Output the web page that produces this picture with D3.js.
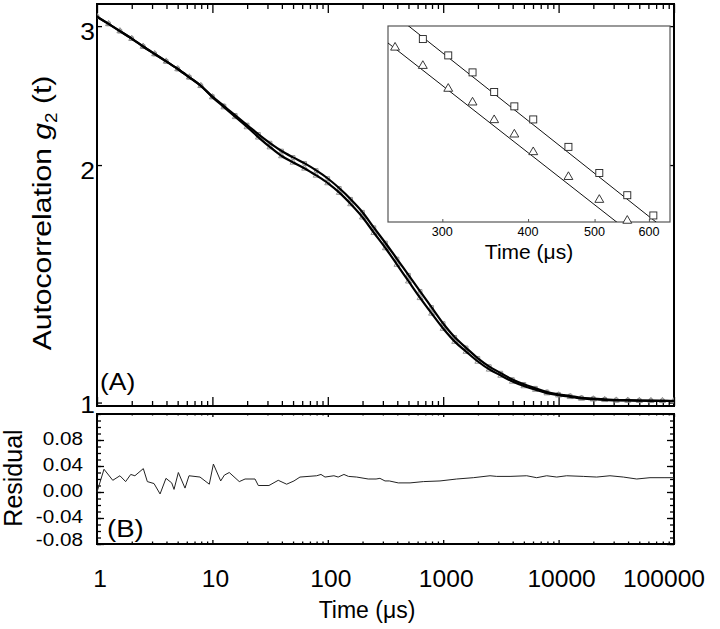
<!DOCTYPE html>
<html><head><meta charset="utf-8">
<script src="https://cdn.jsdelivr.net/npm/d3@7"></script>
<style>body{margin:0;background:#fff} svg{display:block} text{font-family:"Liberation Sans",Arial,Helvetica,sans-serif;fill:#000}</style>
</head><body><svg id="c" width="720" height="629"></svg>
<script>
// ---------- DATA ----------
const times = [1, 1.26, 1.58, 2, 2.51, 3.16, 3.98, 5.01, 6.31, 7.94, 10, 12.6, 15.8, 20, 25.1, 31.6, 39.8, 50.1, 63.1, 79.4,
  100, 126, 158, 200, 251, 316, 398, 501, 631, 794, 1000, 1260, 1580, 2000, 2510, 3160, 3980, 5010, 6310, 7940,
  10000, 12600, 15800, 20000, 25100, 31600, 39800, 50100, 63100, 79400, 100000];
const upperG = [3.0836, 3.0195, 2.9567, 2.8919, 2.8268, 2.7656, 2.7065, 2.6471, 2.5838, 2.5205, 2.4422, 2.3755, 2.3119, 2.2480, 2.1878, 2.1324, 2.0838, 2.0452, 2.0097, 1.9690,
  1.9230, 1.8688, 1.8100, 1.7429, 1.6658, 1.5931, 1.5203, 1.4502, 1.3836, 1.3202, 1.2595, 1.2098, 1.1732, 1.1379, 1.1107, 1.0898, 1.0696, 1.0547, 1.0428, 1.0313,
  1.0244, 1.0193, 1.0140, 1.0116, 1.0095, 1.0075, 1.0069, 1.0060, 1.0054, 1.0051, 1.0046];
const lowerG = [3.0836, 3.0195, 2.9567, 2.8919, 2.8268, 2.7656, 2.7065, 2.6471, 2.5838, 2.5205, 2.4386, 2.3686, 2.3018, 2.2349, 2.1686, 2.1075, 2.0534, 2.0154, 1.9804, 1.9403,
  1.8978, 1.8453, 1.7852, 1.7175, 1.6415, 1.5699, 1.4959, 1.4248, 1.3574, 1.2971, 1.2411, 1.1946, 1.1605, 1.1273, 1.1016, 1.0822, 1.0634, 1.0495, 1.0385, 1.0280,
  1.0217, 1.0169, 1.0119, 1.0098, 1.0080, 1.0063, 1.0060, 1.0054, 1.0051, 1.0051, 1.0046];

const residT = [1, 1.15, 1.37, 1.58, 1.77, 1.96, 2.13, 2.52, 2.73, 3.12, 3.52, 3.96, 4.44, 4.65, 5.07, 5.79, 6.27, 7.81, 9.4, 10.2, 11.8, 12.7, 14.0, 17.1, 19.2, 23.4, 25.0, 30.9, 37.2, 44.0, 50.9, 57.4, 80.1, 87.3, 94.6, 113, 123, 138, 151, 178, 224, 262, 283, 313, 341, 408, 516, 673, 938, 1309, 1824, 2545, 2910, 3795, 5295, 6457, 7887, 9636, 11750, 16370, 21380, 27870, 36380, 47530, 61940, 83560, 100000];
const residV = [0.000, 0.035, 0.018, 0.025, 0.016, 0.027, 0.025, 0.036, 0.016, 0.013, -0.003, 0.021, 0.014, 0.004, 0.030, 0.006, 0.025, 0.023, 0.012, 0.043, 0.017, 0.026, 0.030, 0.016, 0.020, 0.020, 0.010, 0.010, 0.018, 0.012, 0.017, 0.023, 0.025, 0.027, 0.023, 0.025, 0.023, 0.027, 0.024, 0.023, 0.020, 0.020, 0.021, 0.017, 0.017, 0.014, 0.014, 0.016, 0.017, 0.020, 0.022, 0.025, 0.024, 0.024, 0.025, 0.022, 0.025, 0.023, 0.025, 0.024, 0.023, 0.025, 0.023, 0.020, 0.022, 0.022, 0.022];

const insetSqT = [281, 306, 332, 357, 382, 407, 458, 508, 558, 609];
const insetSqG = [1.660, 1.635, 1.609, 1.579, 1.557, 1.537, 1.495, 1.455, 1.421, 1.390];
const insetTrT = [256, 281, 306, 332, 357, 382, 407, 458, 508, 558];
const insetTrG = [1.647, 1.619, 1.584, 1.563, 1.536, 1.514, 1.487, 1.449, 1.414, 1.382];
const insetFitT = [250, 644];
const insetFitSq = [1.705, 1.363];
const insetFitTr = [1.654, 1.316];

const xTickLabels = ["1", "10", "100", "1000", "10000", "100000"];
const xTickValues = [1, 10, 100, 1000, 10000, 100000];
const yMainTicks = [1, 2, 3];
const residTicks = [0.08, 0.04, 0.00, -0.04, -0.08];
const residTickLabels = ["0.08", "0.04", "0.00", "-0.04", "-0.08"];
const insetTicks = [300, 400, 500, 600];

// ---------- LAYOUT ----------
const svg = d3.select("#c");
const L = 97, R = 674;
const mainTop = 4, mainBot = 406;
const resTop = 414, resBot = 544;
const inL = 388, inR = 670, inT = 26, inB = 222;

const x = d3.scaleLog().domain([1, 100000]).range([L, R]);
const y = d3.scaleLog().domain([0.99, 3.2]).range([mainBot, mainTop]);
const yr = d3.scaleLinear().domain([-0.08, 0.12]).range([resBot, resTop]);
const xi = d3.scaleLog().domain([250, 644]).range([inL, inR]);
const yi = d3.scaleLinear().domain([1.38, 1.68]).range([inB, inT]);

const minors = [];
for (let d = 1; d < 100000; d *= 10) for (let k = 2; k <= 9; k++) minors.push(d * k);

function clean(g){ g.select(".domain").remove(); g.selectAll("line").attr("stroke","#000").attr("stroke-width",1.3); }

function xTicks(yPos, axisFn, majLen, minLen){
  svg.append("g").attr("transform",`translate(0,${yPos})`)
    .call(axisFn(x).tickValues(xTickValues).tickSize(majLen).tickFormat("")).call(clean);
  svg.append("g").attr("transform",`translate(0,${yPos})`)
    .call(axisFn(x).tickValues(minors).tickSize(minLen).tickFormat("")).call(clean);
}
xTicks(mainBot, d3.axisTop, 9, 5);
xTicks(mainTop, d3.axisBottom, 9, 5);
xTicks(resTop, d3.axisBottom, 3, 1.5);
xTicks(resBot, d3.axisTop, 4, 2.5);

svg.append("g").attr("transform",`translate(${L},0)`).call(d3.axisRight(y).tickValues(yMainTicks).tickSize(5).tickFormat("")).call(clean);
svg.append("g").attr("transform",`translate(${R},0)`).call(d3.axisLeft(y).tickValues(yMainTicks).tickSize(5).tickFormat("")).call(clean);
const resMinor = d3.range(-8, 13).map(v => v/100);
[[L, d3.axisRight],[R, d3.axisLeft]].forEach(([px, fn]) => {
  svg.append("g").attr("transform",`translate(${px},0)`).call(fn(yr).tickValues(resMinor).tickSize(4).tickFormat("")).call(clean);
  svg.append("g").attr("transform",`translate(${px},0)`).call(fn(yr).tickValues(residTicks).tickSize(7).tickFormat("")).call(clean);
});

svg.append("rect").attr("x",L).attr("y",mainTop).attr("width",R-L).attr("height",mainBot-mainTop).attr("fill","none").attr("stroke","#000").attr("stroke-width",2);
svg.append("rect").attr("x",L).attr("y",resTop).attr("width",R-L).attr("height",resBot-resTop).attr("fill","none").attr("stroke","#000").attr("stroke-width",2);

function label(px, py, txt, size, anchor, sx, rot){
  const g = svg.append("g").attr("transform",`translate(${px},${py})` + (rot ? ` rotate(${rot})` : ""));
  return g.append("text").attr("transform",`scale(${sx},1)`).attr("text-anchor",anchor).attr("font-size",size).text(txt);
}

// ---------- MAIN PANEL ----------
const mainData = [
  {g: upperG, marker: d3.symbolSquare, size: 13},
  {g: lowerG, marker: d3.symbolTriangle, size: 16}
];
const line = d3.line().x(d => x(d[0])).y(d => y(d[1])).curve(d3.curveMonotoneX);
const clipMain = svg.append("defs").append("clipPath").attr("id","mc").append("rect")
  .attr("x",L).attr("y",mainTop).attr("width",R-L).attr("height",mainBot-mainTop);
mainData.forEach(s => {
  const pts = times.map((t,i) => [t, s.g[i]]);
  const sym = d3.symbol().type(s.marker).size(s.size);
  svg.append("g").attr("clip-path","url(#mc)").selectAll("path").data(pts).join("path")
    .attr("transform", d => `translate(${x(d[0])},${y(d[1])})`)
    .attr("d", sym).attr("fill","none").attr("stroke","#8a8a8a").attr("stroke-width",0.9);
});
mainData.forEach(s => {
  const pts = times.map((t,i) => [t, s.g[i]]);
  svg.append("path").datum(pts).attr("d", line).attr("fill","none").attr("stroke","#000").attr("stroke-width",2.2);
});

yMainTicks.forEach(v => {
  label(95, Math.min(y(v) + 5, 404), String(v), 24, "end", 1.1).attr("dominant-baseline","central");
});
label(100, 390, "(A)", 23, "start", 1.15);

// ---------- RESIDUAL ----------
const rline = d3.line().x((d,i) => x(residT[i])).y(d => yr(d));
svg.append("path").datum(residV).attr("d", rline).attr("fill","none").attr("stroke","#222").attr("stroke-width",1);
residTicks.forEach((v,i) => {
  label(83, Math.min(yr(v) - 1.5, 540), residTickLabels[i], 18, "end", 1.15).attr("dominant-baseline","central");
});
label(107, 537, "(B)", 24, "start", 1.15);

xTickValues.forEach((v,i) => {
  const last = i === xTickValues.length - 1;
  label(last ? 705 : x(v) + 3, 587, xTickLabels[i], 23, last ? "end" : "middle", 1.07);
});
label(367, 618, "Time (\u03bcs)", 23, "middle", 1.0);

const yt = label(51, 213, "", 25.5, "middle", 1.18, -90);
yt.append("tspan").text("Autocorrelation ");
yt.append("tspan").attr("font-style","italic").text("g");
yt.append("tspan").attr("font-size",16).attr("dy",6).text("2");
yt.append("tspan").attr("dy",-6).text(" (t)");
label(22, 478, "Residual", 25, "middle", 1.0, -90);

// ---------- INSET ----------
svg.append("rect").attr("x",inL).attr("y",inT).attr("width",inR-inL).attr("height",inB-inT).attr("fill","#fff").attr("stroke","#555").attr("stroke-width",1.2);
svg.append("defs").append("clipPath").attr("id","ic").append("rect").attr("x",inL).attr("y",inT).attr("width",inR-inL).attr("height",inB-inT);
svg.append("g").attr("transform",`translate(0,${inB})`).call(d3.axisTop(xi).tickValues(insetTicks).tickSize(3).tickFormat("")).call(g => {g.select(".domain").remove(); g.selectAll("line").attr("stroke","#555");});
const iline = d3.line().x(d => xi(d[0])).y(d => yi(d[1]));
[insetFitSq, insetFitTr].forEach(f => {
  svg.append("path").datum(insetFitT.map((t,i) => [t, f[i]])).attr("d", iline).attr("clip-path","url(#ic)").attr("fill","none").attr("stroke","#111").attr("stroke-width",1);
});
svg.append("g").selectAll("rect").data(insetSqT.map((t,i) => [t, insetSqG[i]])).join("rect")
  .attr("x", d => xi(d[0]) - 3.5).attr("y", d => yi(d[1]) - 3.5).attr("width",7).attr("height",7)
  .attr("fill","#fff").attr("stroke","#222").attr("stroke-width",0.9);
const tri = d3.symbol().type(d3.symbolTriangle).size(34);
svg.append("g").selectAll("path").data(insetTrT.map((t,i) => [t, insetTrG[i]])).join("path")
  .attr("transform", d => `translate(${xi(d[0])},${yi(d[1])})`).attr("d", tri)
  .attr("fill","#fff").attr("stroke","#222").attr("stroke-width",0.9);
insetTicks.forEach(v => label(xi(v), 236, String(v), 12, "middle", 1.05));
label(529, 258.5, "Time (\u03bcs)", 21, "middle", 1.0);
</script></body></html>
